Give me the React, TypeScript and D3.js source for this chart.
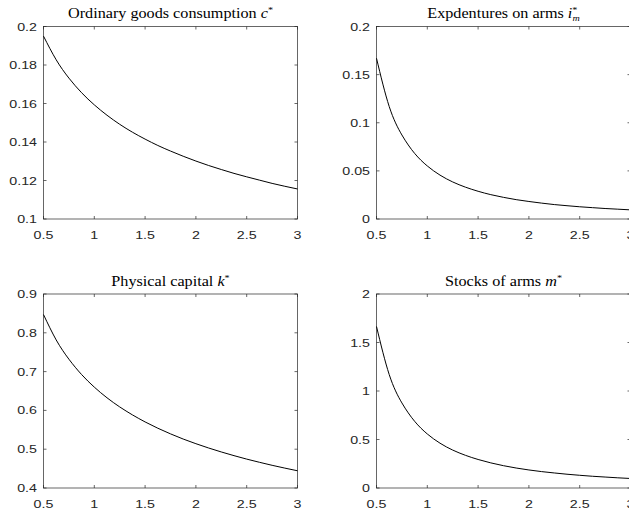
import * as d3 from 'd3';

// shared x grid (values of the parameter on the horizontal axis)
const xs = [
  0.5, 0.625, 0.75, 0.875, 1.0, 1.125, 1.25, 1.375, 1.5, 1.625, 1.75,
  1.875, 2.0, 2.125, 2.25, 2.375, 2.5, 2.625, 2.75, 2.875, 3.0,
];

// steady-state values
const consumption = [
  0.195, 0.1827, 0.1732, 0.1656, 0.1593, 0.1539, 0.1492, 0.1451, 0.1415, 0.1382, 0.1353,
  0.1326, 0.1301, 0.1278, 0.1257, 0.1237, 0.1219, 0.1202, 0.1185, 0.117, 0.1156,
];
const armsSpending = [
  0.167, 0.1169, 0.0873, 0.0682, 0.0551, 0.0456, 0.0385, 0.0331, 0.0288, 0.0253, 0.0225,
  0.0201, 0.0182, 0.0165, 0.015, 0.0138, 0.0127, 0.0118, 0.0109, 0.0102, 0.0095,
];
const capital = [
  0.847, 0.7816, 0.732, 0.6924, 0.66, 0.6325, 0.609, 0.5885, 0.5703, 0.5541, 0.5395,
  0.5262, 0.5142, 0.5031, 0.4929, 0.4834, 0.4745, 0.4663, 0.4585, 0.4513, 0.4444,
];
const armsStock = [
  1.665, 1.17, 0.877, 0.688, 0.557, 0.462, 0.391, 0.337, 0.294, 0.259, 0.23,
  0.206, 0.186, 0.169, 0.155, 0.142, 0.131, 0.121, 0.113, 0.105, 0.098,
];

const xTicks = [0.5, 1, 1.5, 2, 2.5, 3];
const cTicks = [0.1, 0.12, 0.14, 0.16, 0.18, 0.2];
const iTicks = [0, 0.05, 0.1, 0.15, 0.2];
const kTicks = [0.4, 0.5, 0.6, 0.7, 0.8, 0.9];
const mTicks = [0, 0.5, 1, 1.5, 2];

const axisColor = '#262626';
const fmt = d3.format('~g');
// the figure is stretched sideways, so text is widened to match
const stretch = 1.24;

type PanelProps = {
  left: number;
  top: number;
  width: number;
  height: number;
  values: number[];
  yTicks: number[];
  title: React.ReactNode;
};

function Label({ x, y, anchor, children }: { x: number; y: number; anchor: string; children: React.ReactNode }) {
  return (
    <text
      transform={`translate(${x},${y}) scale(${stretch},1)`}
      textAnchor={anchor}
      fontFamily="'Liberation Sans', Arial, sans-serif"
      fontSize={11.5}
      fill={axisColor}
    >
      {children}
    </text>
  );
}

function Panel({ left, top, width, height, values, yTicks, title }: PanelProps) {
  const x = d3.scaleLinear().domain([0.5, 3]).range([left, left + width]);
  const y = d3
    .scaleLinear()
    .domain([yTicks[0], yTicks[yTicks.length - 1]])
    .range([top + height, top]);
  const line = d3
    .line<number>()
    .x((_, i) => x(xs[i]))
    .y((d) => y(d))
    .curve(d3.curveNatural);
  const bottom = top + height;
  const right = left + width;
  const tl = 3;

  return (
    <g>
      <text
        transform={`translate(${left + width / 2},${top - 8.5}) scale(1.19,1)`}
        textAnchor="middle"
        fontFamily="'Liberation Serif', serif"
        fontSize={13.6}
        fill="#000"
      >
        {title}
      </text>
      <rect x={left} y={top} width={width} height={height} fill="#fff" stroke={axisColor} strokeWidth={0.7} />
      {xTicks.map((t) => (
        <g key={'x' + t}>
          <line x1={x(t)} x2={x(t)} y1={bottom} y2={bottom - tl} stroke={axisColor} strokeWidth={0.7} />
          <line x1={x(t)} x2={x(t)} y1={top} y2={top + tl} stroke={axisColor} strokeWidth={0.7} />
          <Label x={x(t)} y={bottom + 19.5} anchor="middle">
            {fmt(t)}
          </Label>
        </g>
      ))}
      {yTicks.map((t) => (
        <g key={'y' + t}>
          <line x1={left} x2={left + tl} y1={y(t)} y2={y(t)} stroke={axisColor} strokeWidth={0.7} />
          <line x1={right} x2={right - tl} y1={y(t)} y2={y(t)} stroke={axisColor} strokeWidth={0.7} />
          <Label x={left - 6.5} y={y(t) + 4} anchor="end">
            {fmt(t)}
          </Label>
        </g>
      ))}
      <path d={line(values) ?? ''} fill="none" stroke="#000" strokeWidth={1} />
    </g>
  );
}

const star = (
  <tspan dy={-5} fontSize={8.5}>
    *
  </tspan>
);

export default function App() {
  const w = 254;
  return (
    <svg
      width={629}
      height={514}
      style={{ position: 'absolute', left: 0, top: 0, background: '#fff' }}
    >
      <Panel
        left={43.5}
        top={26.5}
        width={w}
        height={192.5}
        values={consumption}
        yTicks={cTicks}
        title={
          <>
            Ordinary goods consumption <tspan fontStyle="italic">c</tspan>
            {star}
          </>
        }
      />
      <Panel
        left={376.5}
        top={26.5}
        width={w}
        height={192.5}
        values={armsSpending}
        yTicks={iTicks}
        title={
          <>
            Expdentures on arms <tspan fontStyle="italic">i</tspan>
            {star}
            <tspan dx={-4.2} dy={8} fontSize={8.5} fontStyle="italic">
              m
            </tspan>
          </>
        }
      />
      <Panel
        left={43.5}
        top={294}
        width={w}
        height={194}
        values={capital}
        yTicks={kTicks}
        title={
          <>
            Physical capital <tspan fontStyle="italic">k</tspan>
            {star}
          </>
        }
      />
      <Panel
        left={376.5}
        top={294}
        width={w}
        height={194}
        values={armsStock}
        yTicks={mTicks}
        title={
          <>
            Stocks of arms <tspan fontStyle="italic">m</tspan>
            {star}
          </>
        }
      />
    </svg>
  );
}
